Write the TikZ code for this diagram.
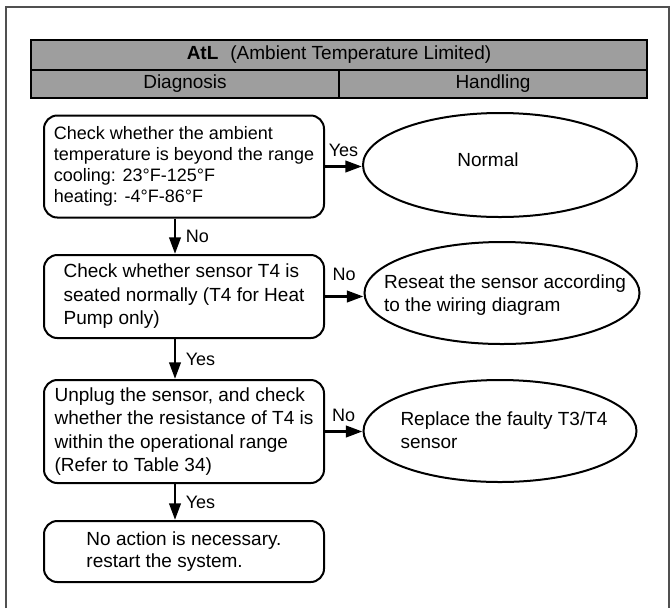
\documentclass[tikz,border=0pt]{standalone}
\usepackage{fontspec}
\setmainfont{Liberation Sans}
\usetikzlibrary{arrows.meta,shapes.geometric}
\definecolor{hdr}{RGB}{158,158,158}
\definecolor{frm}{RGB}{80,80,80}
\begin{document}
\begin{tikzpicture}[x=0.75pt,y=-0.75pt,
  flowbox/.style={draw, line width=1.5pt, rounded corners=10pt, minimum width=210pt, align=left, inner sep=0pt, font=\fontsize{14.25}{17.6}\selectfont},
  ell/.style={draw, ellipse, line width=1.5pt, inner sep=0pt},
  etext/.style={align=left, inner sep=0pt, font=\fontsize{14.25}{17.6}\selectfont},
  arr/.style={line width=2.2pt, -{Triangle[length=12.5pt,width=8.5pt]}},
  lbl/.style={font=\fontsize{13.5}{16}\selectfont, inner sep=2pt},
  hcell/.style={draw, line width=1.5pt, fill=hdr, inner sep=0pt, font=\fontsize{14.25}{17}\selectfont}]
\useasboundingbox (0,0) rectangle (671,608);
\draw[frm, line width=1.2pt] (6,608) -- (6,7) -- (669,7) -- (669,608);
% header
\node[hcell, minimum width=462pt, minimum height=22.5pt] (title) at (339,55) {\textbf{AtL}\hspace{9pt}(Ambient Temperature Limited)};
\node[hcell, minimum width=231pt, minimum height=21pt] (diag) at (185,84) {Diagnosis};
\node[hcell, minimum width=231pt, minimum height=21pt] (hand) at (493,84) {Handling};
% diagnosis boxes
\node[flowbox, minimum height=76.5pt, font=\fontsize{13.5}{15.75}\selectfont] (b1) at (184,166.5) {Check whether the ambient\\temperature is beyond the range\\cooling: 23°F-125°F\\heating: -4°F-86°F};
\node[flowbox, minimum height=62.25pt] (b2) at (184,296.5) {Check whether sensor T4 is\\seated normally (T4 for Heat\\Pump only)};
\node[flowbox, minimum height=77.25pt] (b3) at (184,431.5) {Unplug the sensor, and check\\whether the resistance of T4 is\\within the operational range\\(Refer to Table 34)};
\node[flowbox, minimum height=45.75pt, font=\fontsize{14.25}{16.5}\selectfont] (b4) at (184,551.5) {No action is necessary.\\restart the system.};
% handling ellipses
\node[ell, minimum width=205.5pt, minimum height=78pt] (e1) at (500,165) {};
\node[etext] (e1t) at (488,160) {Normal};
\node[ell, minimum width=206.25pt, minimum height=76.5pt] (e2) at (502,293) {};
\node[etext] (e2t) at (505,295) {Reseat the sensor according\\to the wiring diagram};
\node[ell, minimum width=204.75pt, minimum height=76.5pt] (e3) at (500,431) {};
\node[etext] (e3t) at (504,430) {Replace the faulty T3/T4\\sensor};
% connectors
\coordinate (ax) at (175,0);
\draw[arr] (b1.east) -- node[lbl, above=4pt] {Yes} (b1.east -| e1.west);
\draw[arr] (b1.south -| ax) -- node[lbl, right=5pt] {No} (b2.north -| ax);
\draw[arr] (b2.east) -- node[lbl, above=9pt] {No} (b2.east -| e2.west);
\draw[arr] (b2.south -| ax) -- node[lbl, right=5pt] {Yes} (b3.north -| ax);
\draw[arr] (b3.east) -- node[lbl, above=4pt] {No} (b3.east -| e3.west);
\draw[arr] (b3.south -| ax) -- node[lbl, right=5pt] {Yes} (b4.north -| ax);
\end{tikzpicture}
\end{document}
